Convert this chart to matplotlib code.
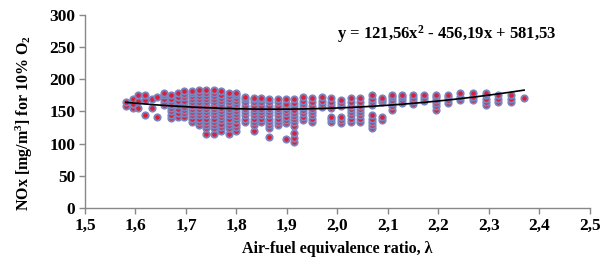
import numpy as np
import matplotlib
matplotlib.use("Agg")
import matplotlib.pyplot as plt
from matplotlib.ticker import FuncFormatter

# air-fuel equivalence ratio of each measurement column
lam = [1.581, 1.595, 1.605, 1.619, 1.633, 1.643, 1.656, 1.670, 1.684, 1.697,
       1.712, 1.726, 1.740, 1.756, 1.770, 1.786, 1.800, 1.817, 1.834, 1.849,
       1.865, 1.882, 1.898, 1.915, 1.932, 1.949, 1.970, 1.988, 2.007, 2.026,
       2.045, 2.068, 2.088, 2.108, 2.128, 2.150, 2.172, 2.196, 2.220, 2.243,
       2.268, 2.294, 2.319, 2.344, 2.370]

# NOx values measured at each lambda (mg/m3, 10% O2)
nox = [
    [159, 165],
    [155, 162, 169],
    [155, 166, 176],
    [145, 168, 176],
    [155, 170],
    [142, 173],
    [160, 165, 170, 175, 179],
    [140, 145, 150, 155, 160, 165, 170, 175],
    [142, 148, 154, 160, 166, 172, 178],
    [142, 147, 152, 157, 162, 167, 172, 177, 181],
    [134, 139, 144, 149, 154, 159, 164, 169, 174, 179, 181],
    [129, 134, 139, 144, 149, 154, 159, 164, 169, 174, 179, 183],
    [115, 124, 129, 134, 139, 144, 149, 154, 159, 164, 169, 174, 179, 183],
    [115, 124, 129, 134, 139, 144, 149, 154, 159, 164, 169, 174, 179, 183],
    [119, 126, 131, 136, 141, 146, 151, 156, 161, 166, 171, 176, 181],
    [115, 124, 129, 134, 139, 144, 149, 154, 159, 164, 169, 174, 179],
    [119, 126, 131, 136, 141, 146, 151, 156, 161, 166, 171, 176, 179],
    [134, 139, 144, 149, 154, 159, 164, 169, 173],
    [119, 129, 134, 139, 144, 149, 154, 159, 164, 169, 171],
    [134, 139, 144, 149, 154, 159, 164, 169, 171],
    [111, 124, 129, 134, 139, 144, 149, 154, 159, 164, 170],
    [129, 134, 139, 144, 149, 154, 159, 164, 169],
    [107, 132, 137, 142, 147, 152, 157, 162, 169],
    [102, 108, 116, 128, 133, 138, 143, 148, 153, 158, 163, 169],
    [137, 142, 147, 152, 157, 162, 167, 173],
    [134, 139, 144, 149, 154, 159, 164, 171],
    [157, 162, 167, 173],
    [134, 139, 142, 155, 160, 165, 171],
    [132, 137, 142, 158, 163, 168],
    [134, 139, 144, 149, 154, 159, 164, 171],
    [134, 139, 144, 149, 154, 159, 164, 171],
    [124, 129, 134, 139, 144, 160, 165, 170, 176],
    [137, 142, 164, 168, 171],
    [153, 158, 163, 168, 172, 176],
    [163, 168, 172, 176],
    [161, 166, 171, 176],
    [166, 171, 176],
    [153, 158, 163, 168, 172, 176],
    [163, 168, 172, 176],
    [168, 173, 178],
    [168, 173, 179],
    [160, 165, 170, 175, 179],
    [165, 170, 176],
    [165, 170, 176],
    [171],
]

# polynomial trendline coefficients shown on the chart
trend_coef = [121.56, -456.19, 581.53]

plt.rcParams['font.family'] = ['Liberation Serif', 'DejaVu Serif']
plt.rcParams['font.weight'] = 'bold'
plt.rcParams['mathtext.fontset'] = 'custom'
plt.rcParams['mathtext.rm'] = 'Liberation Serif:bold'
plt.rcParams['mathtext.it'] = 'Liberation Serif:bold'
plt.rcParams['mathtext.bf'] = 'Liberation Serif:bold'

fig = plt.figure(figsize=(6.03, 2.66), dpi=100)
ax = fig.add_axes([0.141, 0.218, 0.837, 0.726])

xs = []
ys = []
for l, col in zip(lam, nox):
    xs += [l] * len(col)
    ys += col
ax.plot(xs, ys, linestyle='none', marker='o', markersize=4.6,
        markerfacecolor='#d8203c', markeredgecolor='#7b86c0',
        markeredgewidth=1.3, zorder=2)

lam_arr = np.array(lam)
ax.plot(lam_arr, np.polyval(trend_coef, lam_arr), color='black',
        linewidth=1.2, zorder=3)

ax.set_xlim(1.5, 2.5)
ax.set_ylim(0, 300)
ax.set_xticks(np.arange(1.5, 2.51, 0.1))
ax.set_yticks(np.arange(0, 301, 50))
ax.xaxis.set_major_formatter(FuncFormatter(lambda v, p: f"{v:.1f}".replace('.', ',')))

for s in ['top', 'right']:
    ax.spines[s].set_visible(False)
for s in ['left', 'bottom']:
    ax.spines[s].set_color('#888888')
    ax.spines[s].set_linewidth(1.0)
ax.tick_params(axis='both', direction='out', length=4, width=1.0,
               color='#888888', labelsize=12.5, pad=3)

ax.set_xlabel('Air-fuel equivalence ratio, λ', fontsize=11.5, fontweight='bold')
ax.xaxis.set_label_coords(0.5, -0.17)
ax.set_ylabel(r'NOx [mg/m$^{3}$] for 10% O$_{2}$', fontsize=11.5, fontweight='bold')
ax.yaxis.set_label_coords(-0.1, 0.44)

ax.text(0.5, 0.9, r'y = 121,56x$^{2}$ - 456,19x + 581,53', transform=ax.transAxes,
        fontsize=12, fontweight='bold', ha='left', va='center')

fig.savefig('out.png', dpi=100)
